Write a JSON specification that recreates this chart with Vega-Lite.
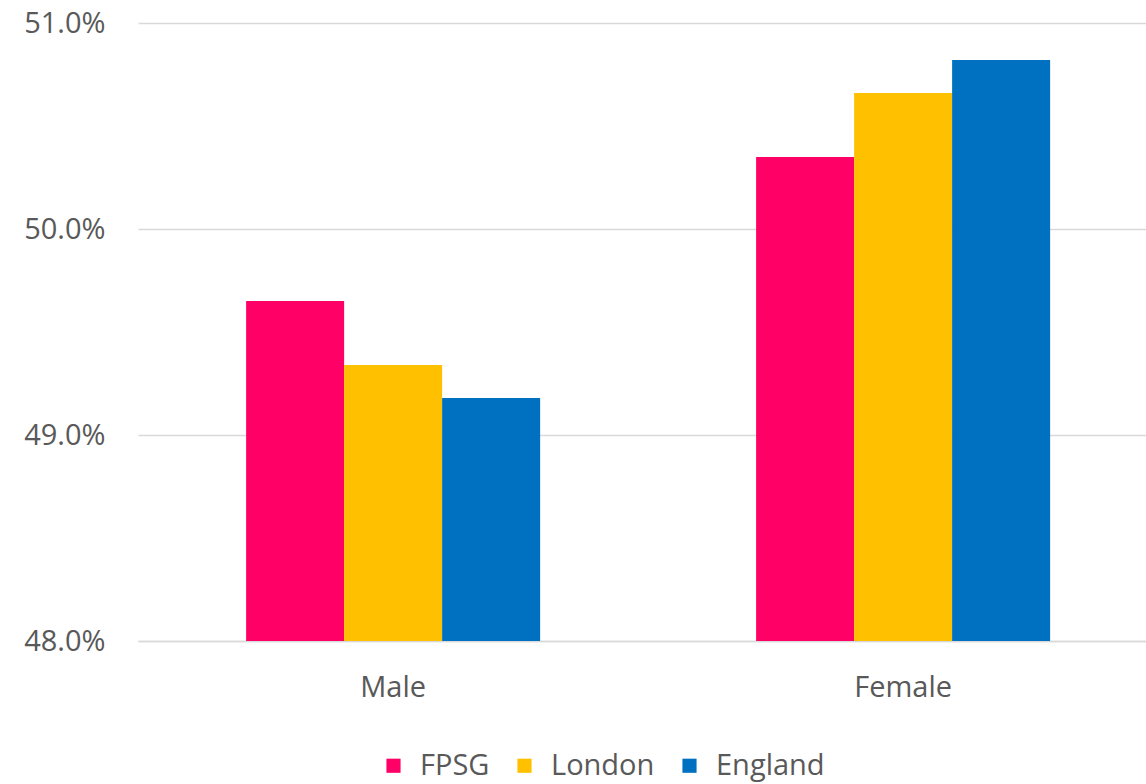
{
  "$schema": "https://vega.github.io/schema/vega-lite/v6.json",
  "width": 1008,
  "height": 618,
  "autosize": {"type": "none"},
  "padding": {"left": 138, "top": 23, "right": 0, "bottom": 143},
  "background": "white",
  "data": {
    "values": [
      {"sex": "Male", "area": "FPSG", "pct": 49.65},
      {"sex": "Male", "area": "London", "pct": 49.34},
      {"sex": "Male", "area": "England", "pct": 49.18},
      {"sex": "Female", "area": "FPSG", "pct": 50.35},
      {"sex": "Female", "area": "London", "pct": 50.66},
      {"sex": "Female", "area": "England", "pct": 50.82}
    ]
  },
  "mark": {"type": "bar", "clip": true},
  "encoding": {
    "x": {
      "field": "sex",
      "type": "nominal",
      "sort": ["Male", "Female"],
      "scale": {"paddingInner": 0.4235, "paddingOuter": 0.2, "align": 0.53},
      "axis": {
        "title": null,
        "labelAngle": 0,
        "labelFont": "Open Sans",
        "labelFontSize": 29,
        "labelColor": "#595959",
        "labelPadding": 32,
        "ticks": false,
        "domain": true,
        "domainColor": "#d9d9d9",
        "domainWidth": 1.5,
        "grid": false
      }
    },
    "xOffset": {
      "field": "area",
      "type": "nominal",
      "sort": ["FPSG", "London", "England"],
      "scale": {"paddingInner": 0, "paddingOuter": 0}
    },
    "y": {
      "field": "pct",
      "type": "quantitative",
      "scale": {"domain": [48, 51], "zero": false, "nice": false},
      "axis": {
        "title": null,
        "values": [48, 49, 50, 51],
        "labelExpr": "format(datum.value, '.1f') + '%'",
        "labelFont": "Open Sans",
        "labelFontSize": 29,
        "labelColor": "#595959",
        "labelPadding": 33,
        "ticks": false,
        "domain": false,
        "grid": true,
        "gridColor": "#d9d9d9",
        "gridWidth": 1.5
      }
    },
    "color": {
      "field": "area",
      "type": "nominal",
      "sort": ["FPSG", "London", "England"],
      "scale": {"domain": ["FPSG", "London", "England"], "range": ["#FF0066", "#FFC000", "#0070C0"]},
      "legend": {
        "title": null,
        "orient": "none",
        "direction": "horizontal",
        "legendX": 241,
        "legendY": 728,
        "symbolType": "square",
        "symbolSize": 200,
        "symbolStrokeWidth": 0,
        "labelFont": "Open Sans",
        "labelFontSize": 29,
        "labelColor": "#595959",
        "labelOffset": 12,
        "columnPadding": 20
      }
    }
  },
  "config": {"view": {"stroke": null}}
}
